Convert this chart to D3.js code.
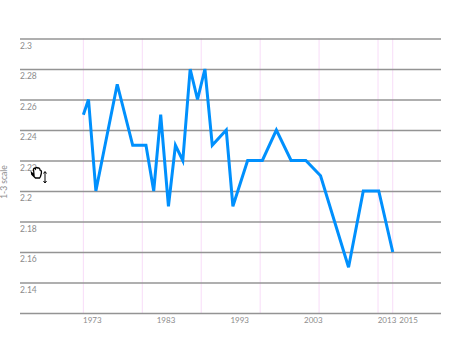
<!DOCTYPE html>
<html>
<head>
<meta charset="utf-8">
<script src="https://cdnjs.cloudflare.com/ajax/libs/d3/7.8.5/d3.min.js"></script>
<style>
  html, body { margin: 0; padding: 0; background: #fff; }
  svg { display: block; }
  text { font-family: "Lato", sans-serif; fill: #8c8c8c; }
</style>
</head>
<body>
<svg id="chart" width="474" height="358"></svg>
<script>
const years = [1973.0, 1973.7, 1974.7, 1977.6, 1979.7, 1981.5, 1982.55, 1983.5, 1984.55, 1985.5, 1986.5, 1987.5, 1988.5, 1989.5, 1990.5, 1992.4, 1993.3, 1995.3, 1997.3, 1999.2, 2001.2, 2003.2, 2005.2, 2009.0, 2011.0, 2013.1, 2015.0];
const values = [2.25, 2.26, 2.2, 2.27, 2.23, 2.23, 2.2, 2.25, 2.19, 2.23, 2.22, 2.28, 2.26, 2.28, 2.23, 2.24, 2.19, 2.22, 2.22, 2.24, 2.22, 2.22, 2.21, 2.15, 2.2, 2.2, 2.16];
const yTicks = [2.3, 2.28, 2.26, 2.24, 2.22, 2.2, 2.18, 2.16, 2.14, 2.12];
const yLabels = ["2.3", "2.28", "2.26", "2.24", "2.22", "2.2", "2.18", "2.16", "2.14"];
const bandYears = [1973, 1981, 1989, 1997, 2005, 2013, 2015];
const xLabels = [1973, 1983, 1993, 2003, 2013, 2015];

const margin = { left: 20, right: 33, top: 38.5, bottom: 45 };
const width = 474, height = 358;

const x = d3.scaleLinear().domain([1964.4, 2021.55]).range([margin.left, width - margin.right]);
const y = d3.scaleLinear().domain([2.12, 2.3]).range([height - margin.bottom, margin.top]);

const svg = d3.select("#chart");

// pink year markers
svg.append("g").selectAll("line").data(bandYears).join("line")
  .attr("x1", (d) => x(d)).attr("x2", (d) => x(d))
  .attr("y1", y(2.3)).attr("y2", y(2.12))
  .attr("stroke", "#f8dcf8").attr("stroke-width", 1);

// horizontal grid, labels hang under each line
const grid = svg.append("g").attr("class", "grid")
  .attr("transform", `translate(${margin.left},0)`)
  .call(d3.axisRight(y).tickValues(yTicks).tickSize(width - margin.left - margin.right).tickFormat(""));
grid.select(".domain").remove();
grid.selectAll(".tick line").attr("stroke", "#949494").attr("stroke-width", 1.6);

svg.append("g").selectAll("text").data(yLabels).join("text")
  .attr("x", margin.left)
  .attr("y", (d) => y(+d) + 10)
  .attr("font-size", 8.5)
  .text((d) => d);

// x labels sit to the right of their tick, 2015 is nudged so it clears 2013
const xAxis = svg.append("g")
  .attr("transform", `translate(0,${height - margin.bottom})`)
  .call(d3.axisBottom(x).tickValues(xLabels).tickSize(0).tickFormat(d3.format("d")));
xAxis.select(".domain").remove();
xAxis.selectAll("text")
  .attr("text-anchor", "start")
  .attr("font-size", 8)
  .attr("font-family", null)
  .attr("dy", "0.71em")
  .attr("y", 4)
  .attr("dx", (d) => (d === 2015 ? 6 : -0.8));

svg.append("text")
  .attr("transform", "translate(7,182) rotate(-90)")
  .attr("text-anchor", "middle")
  .attr("font-size", 8.5)
  .text("1-3 scale");

const line = d3.line()
  .x((d, i) => x(years[i]))
  .y((d) => y(d));

svg.append("path")
  .datum(values)
  .attr("fill", "none")
  .attr("stroke", "#0090fd")
  .attr("stroke-width", 3)
  .attr("stroke-linejoin", "miter")
  .attr("d", line);

// mouse cursor caught in the screenshot
const cursor = svg.append("g").attr("transform", "translate(31,167)");
cursor.append("path")
  .attr("d", "M0.5 5.5 L3 8 L2.5 2 Q3.5 0.5 4.5 2 L5 0.5 Q6 0 6.8 1 L8 1 Q9 1.5 9 3 L10 3.5 Q10.8 4.5 10.3 6.5 L9.5 9.5 L8.5 11 L4.5 11 L0.8 7.5 Z")
  .attr("fill", "#fff").attr("stroke", "#000").attr("stroke-width", 1.3);
cursor.append("path")
  .attr("d", "M14 5 V15.5 M12.5 6.5 L14 4.5 L15.5 6.5 M12.5 14 L14 16 L15.5 14")
  .attr("fill", "none").attr("stroke", "#000").attr("stroke-width", 1);
</script>
</body>
</html>
